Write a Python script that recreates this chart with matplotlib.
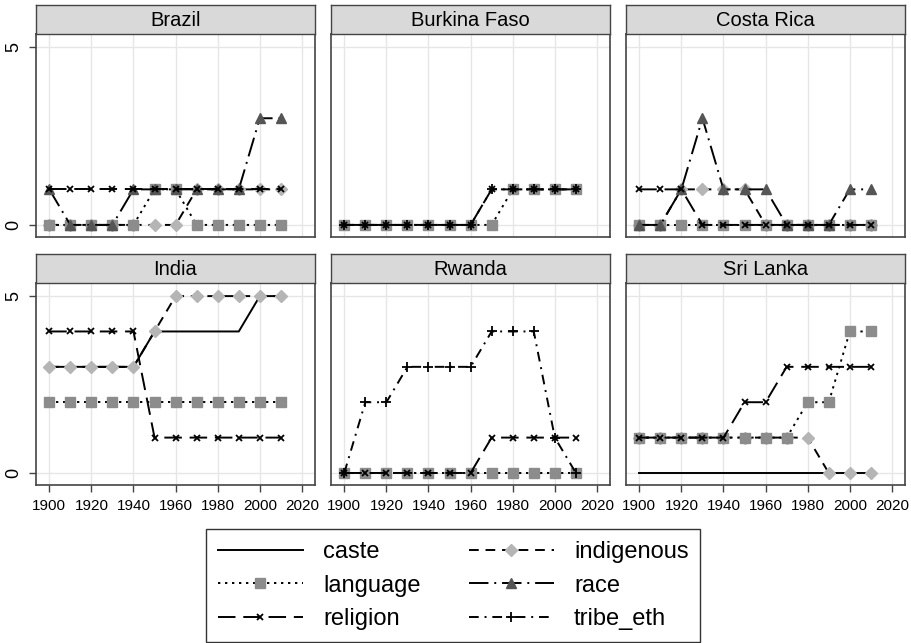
import numpy as np
import matplotlib
matplotlib.use("Agg")
import matplotlib.pyplot as plt
from matplotlib.lines import Line2D

plt.rcParams['font.family'] = ['Liberation Sans', 'DejaVu Sans']

years = list(range(1900, 2011, 10))
countries = ["Brazil", "Burkina Faso", "Costa Rica", "India", "Rwanda", "Sri Lanka"]
series_names = ["caste", "indigenous", "language", "race", "religion", "tribe_eth"]

brazil = {
    "indigenous": [0, 0, 0, 0, 0, 0, 0, 1, 1, 1, 1, 1],
    "language":   [0, 0, 0, 0, 0, 1, 1, 0, 0, 0, 0, 0],
    "race":       [1, 0, 0, 0, 1, 1, 1, 1, 1, 1, 3, 3],
    "religion":   [1, 1, 1, 1, 1, 1, 1, 1, 1, 1, 1, 1],
}
burkina = {
    "language":   [0, 0, 0, 0, 0, 0, 0, 0, 1, 1, 1, 1],
    "religion":   [0, 0, 0, 0, 0, 0, 0, 1, 1, 1, 1, 1],
    "tribe_eth":  [0, 0, 0, 0, 0, 0, 0, 1, 1, 1, 1, 1],
}
costa_rica = {
    "indigenous": [0, 0, 1, 1, 1, 1, 0, 0, 0, 0, 0, 0],
    "language":   [0, 0, 0, 0, 0, 0, 0, 0, 0, 0, 0, 0],
    "race":       [0, 0, 1, 3, 1, 1, 1, 0, 0, 0, 1, 1],
    "religion":   [1, 1, 1, 0, 0, 0, 0, 0, 0, 0, 0, 0],
}
india = {
    "caste":      [3, 3, 3, 3, 3, 4, 4, 4, 4, 4, 5, 5],
    "indigenous": [3, 3, 3, 3, 3, 4, 5, 5, 5, 5, 5, 5],
    "language":   [2, 2, 2, 2, 2, 2, 2, 2, 2, 2, 2, 2],
    "religion":   [4, 4, 4, 4, 4, 1, 1, 1, 1, 1, 1, 1],
}
rwanda = {
    "language":   [0, 0, 0, 0, 0, 0, 0, 0, 0, 0, 0, 0],
    "religion":   [0, 0, 0, 0, 0, 0, 0, 1, 1, 1, 1, 1],
    "tribe_eth":  [0, 2, 2, 3, 3, 3, 3, 4, 4, 4, 1, 0],
}
sri_lanka = {
    "caste":      [0, 0, 0, 0, 0, 0, 0, 0, 0, 0, 0, 0],
    "indigenous": [1, 1, 1, 1, 1, 1, 1, 1, 1, 0, 0, 0],
    "language":   [1, 1, 1, 1, 1, 1, 1, 1, 2, 2, 4, 4],
    "religion":   [1, 1, 1, 1, 1, 2, 2, 3, 3, 3, 3, 3],
}
panel_data = [brazil, burkina, costa_rica, india, rwanda, sri_lanka]

# line / marker styling per series (Stata s1mono-like)
styles = {
    "caste":      dict(ls="-", marker=None, color="black"),
    "indigenous": dict(ls=(0, (5, 3.5)), marker="D", mfc="#b5b5b5", mec="#b5b5b5", ms=6),
    "language":   dict(ls=(0, (1.2, 2.4)), marker="s", mfc="#8c8c8c", mec="#8c8c8c", ms=6.5),
    "race":       dict(ls=(0, (10, 3, 1, 3)), marker="^", mfc="#555555", mec="#555555", ms=7.5),
    "religion":   dict(ls=(0, (9, 4)), marker="x", mfc="black", mec="black", ms=4.5, mew=1.3),
    "tribe_eth":  dict(ls=(0, (5, 3, 1, 3)), marker="+", mfc="black", mec="black", ms=7, mew=1.3),
}

W, H = 912, 643
fig = plt.figure(figsize=(W / 100, H / 100), dpi=100)

lefts = [36, 331, 626]
pw = 279
rows = [(5, 34, 237), (254, 283, 485)]  # strip top, plot top, plot bottom
frame_col = "#444444"

for i, (name, data) in enumerate(zip(countries, panel_data)):
    r, c = divmod(i, 3)
    st, pt, pb = rows[r]
    x0 = lefts[c]
    ax = fig.add_axes([x0 / W, 1 - pb / H, pw / W, (pb - pt) / H])
    sax = fig.add_axes([x0 / W, 1 - pt / H, pw / W, (pt - st) / H])
    sax.set_facecolor("#d9d9d9")
    sax.set_xticks([]); sax.set_yticks([])
    for s in sax.spines.values():
        s.set_color(frame_col); s.set_linewidth(1)
    sax.text(0.5, 0.47, name, ha="center", va="center", fontsize=14.5, transform=sax.transAxes)

    for key in series_names:
        if key not in data:
            continue
        stl = dict(styles[key])
        color = stl.pop("color", "black")
        ax.plot(years, data[key], color=color, lw=1.4, **stl)

    ax.set_xlim(1893.7, 2026.2)
    ax.set_ylim(-0.34, 5.37)
    ax.set_xticks(range(1900, 2021, 20))
    ax.set_yticks([0, 5])
    ax.grid(True, color="#e6e6e6", lw=1)
    ax.set_axisbelow(True)
    for s in ax.spines.values():
        s.set_color(frame_col); s.set_linewidth(1.2)
    ax.tick_params(axis="both", length=5, width=1, color=frame_col, labelsize=11, pad=5)
    if r == 0:
        ax.tick_params(axis="x", length=0, labelbottom=False)
    if c != 0:
        ax.tick_params(axis="y", length=0, labelleft=False)
    else:
        plt.setp(ax.get_yticklabels(), rotation=90, va="center", fontsize=13)

handles = []
for key in series_names:
    stl = dict(styles[key])
    color = stl.pop("color", "black")
    handles.append(Line2D([], [], color=color, lw=1.4, **stl))
# Stata fills the legend row-wise, matplotlib column-wise
order = [0, 2, 4, 1, 3, 5]
leg = fig.legend([handles[k] for k in order], [series_names[k] for k in order],
                 ncol=2, loc="upper center", bbox_to_anchor=(0.497, 1 - 529 / H),
                 frameon=True, fancybox=False, edgecolor="black", fontsize=17,
                 handlelength=3.6, numpoints=1, columnspacing=2.05,
                 labelspacing=0.5, borderpad=0.5, handletextpad=0.85,
                 borderaxespad=0)
leg.get_frame().set_linewidth(1)

fig.savefig("out.png", dpi=100)
